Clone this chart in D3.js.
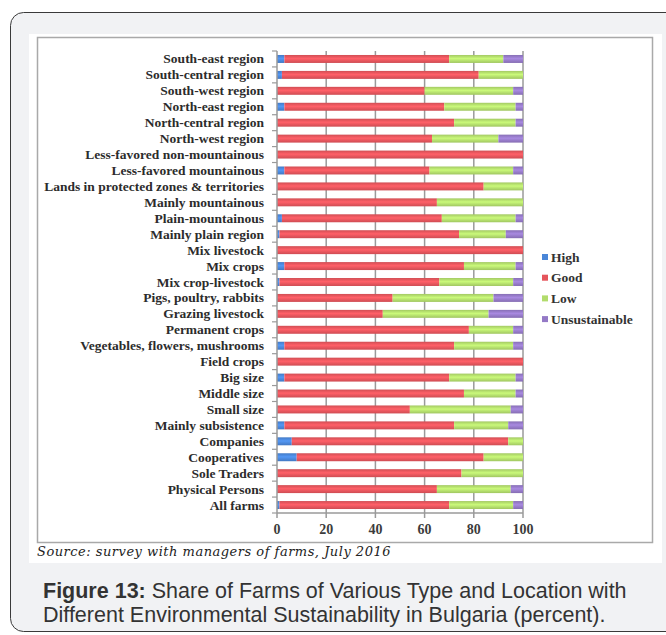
<html>
<head>
  <title>Figure 13</title>
  <script src="https://d3js.org/d3.v7.min.js"></script>
  <style>
    body { margin: 0; background: #fff; }
  </style>
</head>
<body>
  <div id="vis"></div>

  <script type="text/javascript">
    // categories, top to bottom
    var categories = ['South-east region', 'South-central region', 'South-west region', 'North-east region',
      'North-central region', 'North-west region', 'Less-favored non-mountainous', 'Less-favored mountainous',
      'Lands in protected zones & territories', 'Mainly mountainous', 'Plain-mountainous', 'Mainly plain region',
      'Mix livestock', 'Mix crops', 'Mix crop-livestock', 'Pigs, poultry, rabbits', 'Grazing livestock',
      'Permanent crops', 'Vegetables, flowers, mushrooms', 'Field crops', 'Big size', 'Middle size',
      'Small size', 'Mainly subsistence', 'Companies', 'Cooperatives', 'Sole Traders', 'Physical Persons',
      'All farms'];

    var high          = [3, 2, 0, 3, 0, 0, 0, 3, 0, 0, 2, 1, 0, 3, 1, 0, 0, 0, 3, 0, 3, 0, 0, 3, 6, 8, 0, 0, 1];
    var good          = [67, 80, 60, 65, 72, 63, 100, 59, 84, 65, 65, 73, 100, 73, 65, 47, 43, 78, 69, 100, 67, 76, 54, 69, 88, 76, 75, 65, 69];
    var low           = [22, 18, 36, 29, 25, 27, 0, 34, 16, 35, 30, 19, 0, 21, 30, 41, 43, 18, 24, 0, 27, 21, 41, 22, 6, 16, 25, 30, 26];
    var unsustainable = [8, 0, 4, 3, 3, 10, 0, 4, 0, 0, 3, 7, 0, 3, 4, 12, 14, 4, 4, 0, 3, 3, 5, 6, 0, 0, 0, 5, 4];

    var keys = ['High', 'Good', 'Low', 'Unsustainable'];
    var xTicks = [0, 20, 40, 60, 80, 100];
    var colors = ['#4a86d8', '#e5555c', '#b2dc6c', '#9479c6'];

    var rows = categories.map(function(c, i) {
      return {cat: c, High: high[i], Good: good[i], Low: low[i], Unsustainable: unsustainable[i]};
    });

    var svg = d3.select('#vis').append('svg')
      .attr('width', 666)
      .attr('height', 635);

    // outer rounded card
    svg.append('rect')
      .attr('x', 10.5).attr('y', 12.5)
      .attr('width', 700).attr('height', 619)
      .attr('rx', 13)
      .style('fill', '#f1f2f4')
      .style('stroke', '#3a3a3a')
      .style('stroke-width', 1);

    // white picture panel + chart frame
    svg.append('rect')
      .attr('x', 29).attr('y', 34).attr('width', 633).attr('height', 529)
      .style('fill', '#fff');
    svg.append('rect')
      .attr('x', 37.5).attr('y', 37.5).attr('width', 615).attr('height', 505)
      .style('fill', 'none')
      .style('stroke', '#a9a9a9')
      .style('stroke-width', 1.5);

    var x = d3.scaleLinear().domain([0, 100]).range([277, 523]);
    var y = d3.scaleBand().domain(categories).range([51, 513]).paddingInner(0.5).paddingOuter(0.25);

    // gradients for the bars
    var defs = svg.append('defs');
    keys.forEach(function(k, i) {
      var base = d3.color(colors[i]);
      var g = defs.append('linearGradient')
        .attr('id', 'grad' + i)
        .attr('x1', 0).attr('y1', 0).attr('x2', 0).attr('y2', 1);
      g.append('stop').attr('offset', '0%').attr('stop-color', base.darker(0.25));
      g.append('stop').attr('offset', '45%').attr('stop-color', base.brighter(0.35));
      g.append('stop').attr('offset', '100%').attr('stop-color', base.darker(0.3));
    });

    // gridlines
    svg.append('g')
      .selectAll('line')
      .data(xTicks.slice(1))
      .enter()
      .append('line')
        .attr('x1', function(d) { return x(d); })
        .attr('x2', function(d) { return x(d); })
        .attr('y1', 51)
        .attr('y2', 518)
        .style('stroke', '#9a9a9a')
        .style('stroke-width', 1.5);

    // stacked bars
    var series = d3.stack().keys(keys)(rows);
    svg.append('g')
      .selectAll('g')
      .data(series)
      .enter()
      .append('g')
        .attr('fill', function(d, i) { return 'url(#grad' + i + ')'; })
      .selectAll('rect')
      .data(function(d) { return d; })
      .enter()
      .append('rect')
        .attr('x', function(d) { return x(d[0]); })
        .attr('y', function(d) { return y(d.data.cat); })
        .attr('width', function(d) { return x(d[1]) - x(d[0]); })
        .attr('height', y.bandwidth());

    // left axis: line and ticks at band boundaries
    var step = y.step();
    var bounds = d3.range(categories.length + 1).map(function(i) { return 51 + i * step; });
    svg.append('line')
      .attr('x1', 277).attr('x2', 277).attr('y1', 51).attr('y2', 513)
      .style('stroke', '#9a9a9a').style('stroke-width', 1.5);
    svg.append('g')
      .selectAll('line')
      .data(bounds)
      .enter()
      .append('line')
        .attr('x1', 272).attr('x2', 277)
        .attr('y1', function(d) { return d; })
        .attr('y2', function(d) { return d; })
        .style('stroke', '#9a9a9a').style('stroke-width', 1.2);

    // bottom axis
    svg.append('line')
      .attr('x1', 277).attr('x2', 523).attr('y1', 513).attr('y2', 513)
      .style('stroke', '#9a9a9a').style('stroke-width', 1.5);
    svg.append('line')
      .attr('x1', 277).attr('x2', 277).attr('y1', 513).attr('y2', 518)
      .style('stroke', '#9a9a9a').style('stroke-width', 1.5);

    svg.append('g')
      .selectAll('text')
      .data(xTicks)
      .enter()
      .append('text')
        .attr('x', function(d) { return x(d); })
        .attr('y', 534)
        .attr('text-anchor', 'middle')
        .style('font-family', 'Liberation Serif')
        .style('font-weight', 'bold')
        .style('font-size', '14px')
        .style('fill', '#3c3c3c')
        .text(function(d) { return d; });

    // category labels
    svg.append('g')
      .selectAll('text')
      .data(categories)
      .enter()
      .append('text')
        .attr('x', 264)
        .attr('y', function(d) { return y(d) + y.bandwidth() / 2 + 4.5; })
        .attr('text-anchor', 'end')
        .style('font-family', 'Liberation Serif')
        .style('font-weight', 'bold')
        .style('font-size', '13.5px')
        .style('fill', '#2c2c2c')
        .text(function(d) { return d; });

    // legend
    var legend = svg.append('g')
      .selectAll('g')
      .data(keys)
      .enter()
      .append('g')
        .attr('transform', function(d, i) { return 'translate(542,' + (258 + i * 20.7) + ')'; });
    legend.append('rect')
      .attr('x', 0).attr('y', -4)
      .attr('width', 6).attr('height', 6)
      .style('fill', function(d, i) { return colors[i]; });
    legend.append('text')
      .attr('x', 9).attr('y', 3.5)
      .style('font-family', 'Liberation Serif')
      .style('font-weight', 'bold')
      .style('font-size', '13.5px')
      .style('fill', '#333')
      .text(function(d) { return d; });

    // source note
    svg.append('text')
      .attr('x', 37).attr('y', 556)
      .style('font-family', 'DejaVu Serif')
      .style('font-style', 'italic')
      .style('font-size', '13px')
      .style('letter-spacing', '0.5px')
      .style('fill', '#222')
      .text('Source: survey with managers of farms, July 2016');

    // caption
    var cap = svg.append('text')
      .style('font-family', 'Liberation Sans')
      .style('font-size', '21.5px')
      .style('fill', '#333');
    var line1 = cap.append('tspan').attr('x', 43).attr('y', 598);
    line1.append('tspan').style('font-weight', 'bold').text('Figure 13:');
    line1.append('tspan').text(' Share of Farms of Various Type and Location with');
    cap.append('tspan').attr('x', 43).attr('y', 622)
      .text('Different Environmental Sustainability in Bulgaria (percent).');
  </script>
</body>
</html>
